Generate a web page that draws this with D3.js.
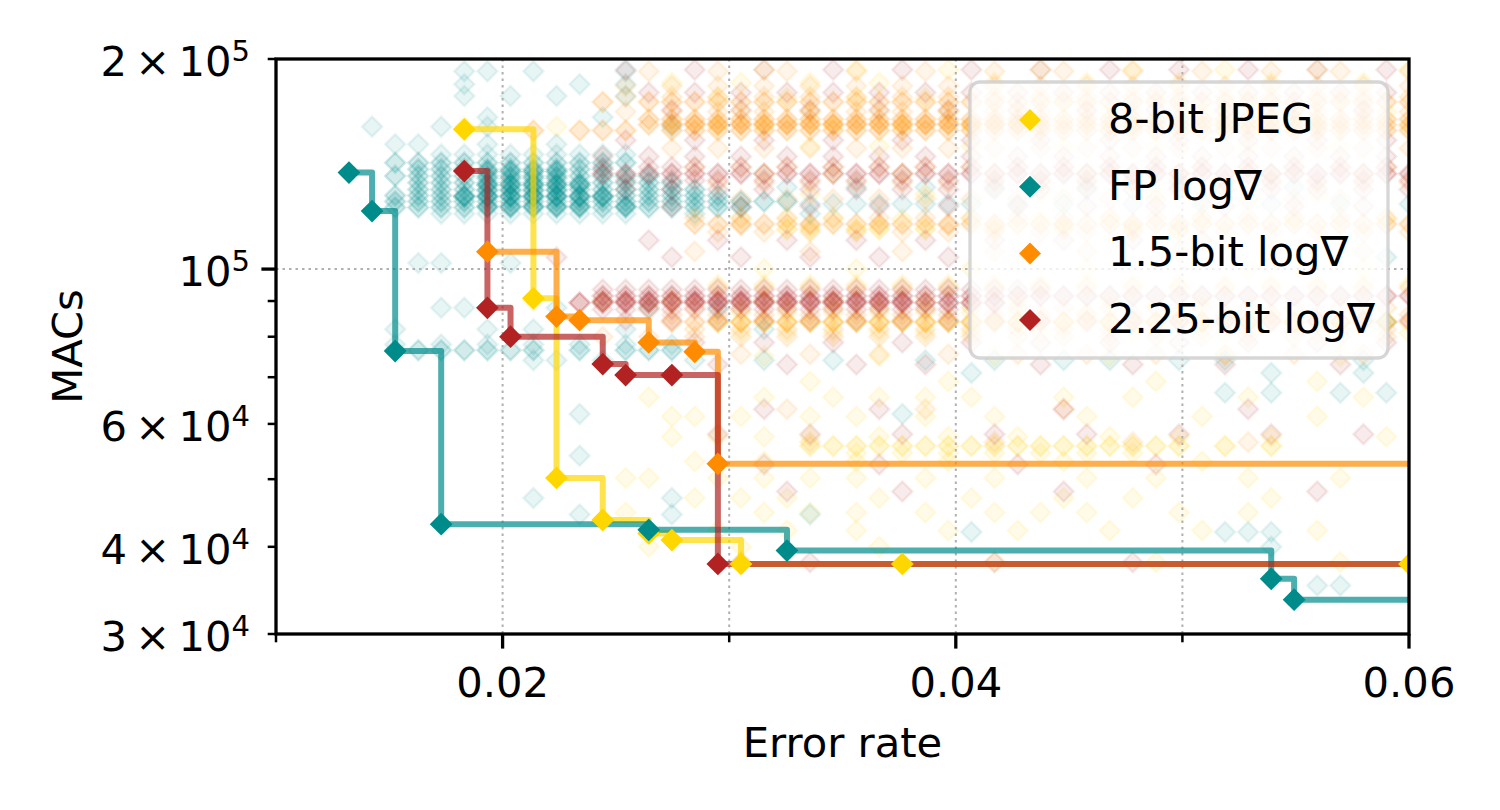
<!DOCTYPE html>
<html><head><meta charset="utf-8">
<script src="https://cdn.jsdelivr.net/npm/d3@7"></script>
<style>
body{margin:0;background:#fff}
svg{display:block}
text{font-family:"DejaVu Sans",sans-serif;fill:#000}
</style>
</head><body>
<svg id="chart" width="1500" height="810"></svg>
<script>
// ---------------- DATA ----------------
const seriesNames  = ["8-bit JPEG", "FP log\u2207", "1.5-bit log\u2207", "2.25-bit log\u2207"];
const seriesColors = ["#FFD700", "#008B8B", "#FF8C00", "#B22222"];

// x ticks / y ticks
const xMajorTicks = [0.02, 0.04, 0.06];
const xMinorTicks = [0.01, 0.03, 0.05];
const xGridTicks  = [0.02, 0.03, 0.04, 0.05];
const yMajorTicks = [100000];
const yMinorTicks = [30000, 40000, 50000, 60000, 70000, 80000, 90000, 200000];
const yTickLabels = [[200000, "2", "5"], [100000, "", "5"], [60000, "6", "4"], [40000, "4", "4"], [30000, "3", "4"]];

// Pareto fronts  [error rate, MACs]
const paretoJpeg = [[0.01831,158600],[0.02136,90800],[0.02238,50200],[0.02442,43700],[0.02645,41800],[0.02747,40900],[0.03052,37800],[0.03764,37800],[0.06002,37800]];
const paretoFp   = [[0.01322,137500],[0.01424,121100],[0.01526,76300],[0.01729,43100],[0.02645,42300],[0.03255,39500],[0.05392,36000],[0.05493,33600]];
const pareto15   = [[0.01933,105900],[0.02238,85500],[0.02340,84500],[0.02645,78500],[0.02848,76100],[0.02950,52600]];
const pareto225  = [[0.01831,138200],[0.01933,88000],[0.02035,80000],[0.02442,73100],[0.02543,70500],[0.02747,70500],[0.02950,37800]];

// discrete error-rate columns observed in the picture (column 12 .. 60)
const firstCol = 12;
const errGrid = [0.01221,0.01322,0.01424,0.01526,0.01628,0.01729,0.01831,0.01933,0.02035,0.02136,
  0.02238,0.02340,0.02442,0.02543,0.02645,0.02747,0.02848,0.02950,0.03052,0.03154,
  0.03255,0.03357,0.03459,0.03561,0.03662,0.03764,0.03866,0.03967,0.04069,0.04171,
  0.04273,0.04374,0.04476,0.04578,0.04680,0.04781,0.04883,0.04985,0.05087,0.05188,
  0.05290,0.05392,0.05493,0.05595,0.05697,0.05799,0.05900,0.06002,0.06104];

// background runs: [MACs, number of overlapping runs, columns]
const bgJpeg = [
 [193000,1,[31,35,39,43,47,51,55,59]],
 [185000,1,[27,30,33,36,41,45,49,53,57]],
 [176000,1,[29,32,35,38,44,48,52,56]],
 [168000,1,[30,33,36,39,42,46,50,54,58]],
 [160000,1,[18,22,29,31,34,37,40,43,47,51,55,59]],
 [150000,1,[33,36,40,44,48,52,56]],
 [137000,1,[31,34,37,41,45,49,53,57]],
 [128000,1,[33,38,43,48,55]],
 [118000,1,[30,32,34,37,40,43,46,50,54,58]],
 [114000,2,[32,33,35,36,38,41,44,47,49]],
 [100000,1,[31,35,40,45,52,57]],
 [95000,1,[29,31,33,35,37,39,41,43,45,47,49,51,53,55,57,59]],
 [90000,1,[21,24,27,31,34,38,42,46,50]],
 [86500,1,[30,32,34,36,38,40,42,45,49,53,57]],
 [84000,2,[29,30,31,32,33,34,35,36,37,38,39,40,41,42,44,46,48,50,52,54,56,58]],
 [81000,1,[30,32,34,36,38,40,43,47,51,55,59]],
 [75000,1,[31,36,41,46,51,56]],
 [69000,1,[33,39,48,55]],
 [65500,1,[26,31,34,36,38,40,44,47,52,57]],
 [61500,1,[27,28,30,33,35,38,41,45,50,55]],
 [57500,1,[27,29,31,33,36,39,42,46,49,53,58]],
 [55800,2,[33,34,35,36,37,38,39,40,41,42,43,44,45,46,47,48,49,51,53]],
 [54500,1,[35,37,39,41,43,45,47]],
 [53000,1,[28,31,35,39,44,50]],
 [50200,1,[25,26,29,31,33,35,38,41,45,48,52,56]],
 [47000,1,[28,30,32,36,40,44,47,53]],
 [44800,1,[25,31,33,35,38,41,43,45,49,52]],
 [42200,1,[29,32,35,39,42,46,50,55]],
 [40000,1,[26,30,36]],
 [38000,1,[41,48,56]]
];
const bgFp = [
 [192000,1,[18,19,21,25]],
 [184000,1,[18,23,25]],
 [177000,1,[18,20,22,25]],
 [165000,1,[19,24]],
 [160000,1,[14,17,19,27]],
 [151000,1,[15,16,19,22]],
 [146000,1,[17,18,19,20,21,22,23,24,25]],
 [142000,2,[15,16,17,18,19,20,21,22,23,24,25]],
 [139000,2,[16,17,18,19,20,21,22,23,24]],
 [136000,2,[15,16,17,18,19,20,21,22,23,24,25,26]],
 [133000,2,[16,17,18,19,20,21,22,23,24,25,26,27]],
 [130000,2,[16,17,18,19,20,21,22,23,24,25,26,27,28]],
 [127500,2,[15,16,17,18,19,20,21,22,23,24,25,26,27,28,29]],
 [125000,2,[15,16,17,18,19,20,21,22,23,24,25,26,27,28,29,30,31,32]],
 [122500,2,[15,16,17,18,19,20,21,22,23,24,25,26,27,28,29,30]],
 [120000,1,[17,18,19,20,21,22,23,24,25,28,33]],
 [138000,3,[19,20,21,22]],
 [135000,2,[19,20,21,22]],
 [132000,4,[19,20,21,22,23]],
 [129500,2,[19,20,21,22]],
 [127000,4,[18,19,20,21,22,23,24]],
 [123000,3,[19,20,21,22,23,25]],
 [124000,1,[33,34,35,36,37,38,39,40,42,44,47,50,53,56,59]],
 [131000,1,[32,35,38,41,45,49,54]],
 [104000,1,[58]],
 [102000,1,[16,17,20]],
 [88000,1,[17,18,22,26,29]],
 [84000,1,[58]],
 [82000,1,[15,19,21,25,31]],
 [78000,1,[15,17,19,21,23,25,27]],
 [76500,2,[15,16,17,18,19,20,21,23,25,26,27]],
 [74000,1,[21,22,24,28,31,34,38,41,44,46,49,51,57]],
 [71000,1,[40,53,57]],
 [66500,1,[51,53,56,58]],
 [62000,1,[23,37]],
 [54000,1,[23]],
 [47000,1,[21,27]],
 [44500,1,[23,27,33]],
 [42000,1,[40,51,52,53]],
 [40000,1,[53]],
 [35200,1,[55,56]]
];
const bg15 = [
 [192000,1,[26,29,32,35,38,41,44,47,50,53,56,59]],
 [183000,1,[25,27,29,31,33,35,37,39,41,43,45,47,49,51,53,55,57,59]],
 [176500,1,[25,27,29,31,33,35,37,39,41,43,45,47,49,51,53,55,57,59]],
 [173500,2,[24,26,27,28,29,30,31,32,33,34,35,36,37,38,39,40,41,42,43,44,45,46,47,48,49,50,51,52,53,54,55,56,57,58,59]],
 [168000,1,[25,27,29,31,33,35,37,39,41,43,45,47,49,51,53,55,57,59]],
 [164000,2,[26,27,28,29,30,31,32,33,34,35,36,37,38,39,40,41,42,43,44,45,46,47,48,49,50,51,52,53,54,55,56,57,58,59]],
 [161000,2,[26,27,28,29,30,31,32,33,34,35,36,37,38,39,40,41,42,43,44,45,46,47,48,49,50,51,52,53,54,55,56,57,58,59]],
 [161500,2,[27,28,29,30,31,32,33,34,35,36,37,38,39,40,41,42]],
 [158000,2,[21,23,24,25,27,28,29,30,31,32,33,34,35,36,37,38,39,40,41,42,43,44,45,46,47,48,49,50,51,52,53,54,55,56,57,58,59]],
 [149000,1,[27,29,31,33,35,37,39,41,43,45,47,49,51,53,55,57,59]],
 [140000,1,[28,30,32,34,36,38,40,42,44,46,48,50,52,54,56,58]],
 [133000,1,[29,31,33,35,37,39,41,43,45,47,49,51,53,55,57,59]],
 [126000,1,[30,32,34,36,38,40,42,44,46,48,50,52,54,56]],
 [118500,1,[28,30,32,34,36,38,40,42,44,46,48,50,52,54,56,58]],
 [116000,2,[28,29,30,31,32,33,34,35,36,37,38,39,40,41,42,43,44,45,46,47,48,49,50,51,52,53,54,55,56,57,58,59]],
 [115500,1,[30,33,36,39,41,44,47]],
 [113000,1,[29,31,33,35,37,39,41,43,45,47,49,51,53,55,57,59]],
 [106000,1,[28,33,37,41,45,49,53,57]],
 [94000,1,[29,31,33,35,37,39,41,43,45,47,49,51,53,55,57,59]],
 [88000,1,[26,28,30,32,34,36,38,40,42,44,46,48,50,52,54,56,58]],
 [86000,1,[27,29,31,33,35,37,39,41,43,45,47,49,51,53,55,57,59]],
 [84000,2,[27,28,29,30,31,32,33,34,35,36,37,38,39,40,41,42,43,44,45,46,47,48,49,50,51,52,53,54,55,56,57,58,59]],
 [82000,1,[28,30,32,34,36,38,40,42,44,46,48,50,52,54,56,58]],
 [80000,1,[24,26,28,30,32,34,36,38,40,42,44,46,48,50,52,54,56,58]],
 [75500,1,[30,33,36,39,42,45,48,51,54,57]],
 [63000,1,[32,38,44]],
 [56500,1,[33,41,47,52]]
];
const bg225 = [
 [193000,1,[25,28,31,34,37,40,43,46,49,52,55,58]],
 [179000,1,[26,28,30,32,34,36,38,40,42,44,46,48,50,52,54,56,58]],
 [169000,1,[27,30,33,36,39,42,45,48,51,54,57]],
 [153000,1,[25,28,31,34,37,40,43,46,49,52,55,58]],
 [145000,1,[24,26,28,30,32,34,36,38,40,42,44,46,48,50,52,54,56,58]],
 [140000,1,[24,26,27,28,30,32,34,36,38,40,42,44,46,48,50,52,54,56,58]],
 [137000,2,[24,25,26,27,28,29,30,31,32,33,34,35,36,37,38,39,40,41,42,43,44,45,46,47,48,49,50,51,52,53,54,55,56,57,58,59]],
 [134000,1,[25,27,28,29,31,33,35,37,39,41,43,45,47,49,51,53,55,57,59]],
 [130000,1,[25,27,29,31,33,35,37,39,41,43,45,47,49,51,53,55,57,59]],
 [123000,1,[27,30,33,36,39,42,45,48,51,54,57]],
 [110000,1,[26,29,32,35,38,41,44,47,50]],
 [104000,1,[22,27,30,33,36,39]],
 [93500,1,[24,25,26,27,28,29,30,31,32,33,34,35,36,37,38,39,40,41,42,43]],
 [91500,2,[24,25,26,27,28,29,30,31,32,33,34,35,36,37,38,39,40,41,42,43,44,45,46,47,48,49,50,51,52,53,54,55,56,57,58,59]],
 [90000,2,[24,25,26,27,28,29,30,31,32,33,34,35,36,37]],
 [89500,3,[23,24,25,26,27,28,29,30,31,32,33,34,35,36,37,38,39,40,41]],
 [87500,1,[24,25,26,27,28,29,30,31,32,33,34,35,36,37,38,39]],
 [84500,1,[25,27,29,31,33,35,37,39,41,43,45,47,49,51,53,55,57,59]],
 [78500,1,[28,31,34,37,40,43,46,49,52,55,58]],
 [73000,1,[29,32,35,38,43,47,51,56]],
 [63000,1,[31,36,44,52]],
 [58000,1,[29,33,37,41,45,49,53,57]],
 [52500,1,[31,36,42,48]],
 [48000,1,[32,37,44,55]],
 [38000,1,[30,33,41,47]]
];

const paretoAll = [paretoJpeg, paretoFp, pareto15, pareto225];
const bgAll = [bgJpeg, bgFp, bg15, bg225];

// ---------------- CHART ----------------
const FS = 41.7;
const svg = d3.select("#chart");
const M = {left: 276, right: 1409, top: 59, bottom: 634};
const x = d3.scaleLinear().domain([0.01, 0.06]).range([M.left, M.right]);
const y = d3.scaleLog().domain([30000, 200000]).range([M.bottom, M.top]);

svg.append("defs").append("clipPath").attr("id", "plotclip")
  .append("rect").attr("x", M.left).attr("y", M.top)
  .attr("width", M.right - M.left).attr("height", M.bottom - M.top);

const plot = svg.append("g").attr("clip-path", "url(#plotclip)");

// background scatter
const bgSym = d3.symbol().type(d3.symbolSquare).size(200);
const bgLayer = plot.append("g");
bgAll.forEach((rows, si) => {
  const pts = [];
  rows.forEach(([macs, n, cols]) => {
    cols.forEach(c => { for (let r = 0; r < n; r++) pts.push([errGrid[c - firstCol], macs]); });
  });
  bgLayer.append("g").selectAll("path").data(pts).join("path")
    .attr("d", bgSym)
    .attr("transform", d => `translate(${x(d[0])},${y(d[1])}) rotate(45)`)
    .attr("fill", seriesColors[si]).attr("fill-opacity", 0.09)
    .attr("stroke", seriesColors[si]).attr("stroke-opacity", 0.09).attr("stroke-width", 2.5);
});

// grid (above scatter, below lines)
const grid = plot.append("g").attr("stroke", "#b0b0b0").attr("stroke-width", 2).attr("stroke-dasharray", "2.5,4");
grid.selectAll("line.gx").data(xGridTicks).join("line").attr("class", "gx")
  .attr("x1", d => x(d)).attr("x2", d => x(d)).attr("y1", M.top).attr("y2", M.bottom);
grid.selectAll("line.gy").data(yMajorTicks).join("line").attr("class", "gy")
  .attr("x1", M.left).attr("x2", M.right).attr("y1", d => y(d)).attr("y2", d => y(d));

// step lines
const stepLine = d3.line().x(d => x(d[0])).y(d => y(d[1])).curve(d3.curveStepAfter);
paretoAll.forEach((pts, si) => {
  const ext = pts.concat([[x.domain()[1] + 0.001, pts[pts.length - 1][1]]]);
  plot.append("path").attr("d", stepLine(ext))
    .attr("fill", "none").attr("stroke", seriesColors[si]).attr("stroke-opacity", 0.7)
    .attr("stroke-width", 6).attr("stroke-linejoin", "round");
});
// pareto markers
const pSym = d3.symbol().type(d3.symbolSquare).size(260);
paretoAll.forEach((pts, si) => {
  plot.append("g").selectAll("path").data(pts).join("path")
    .attr("d", pSym)
    .attr("transform", d => `translate(${x(d[0])},${y(d[1])}) rotate(45)`)
    .attr("fill", seriesColors[si]);
});

// ticks
const tk = svg.append("g").attr("stroke", "#000");
tk.selectAll("line.xM").data(xMajorTicks).join("line").attr("class", "xM")
  .attr("x1", d => x(d)).attr("x2", d => x(d)).attr("y1", M.bottom).attr("y2", M.bottom + 14.6).attr("stroke-width", 3.3);
tk.selectAll("line.xm").data(xMinorTicks).join("line").attr("class", "xm")
  .attr("x1", d => x(d)).attr("x2", d => x(d)).attr("y1", M.bottom).attr("y2", M.bottom + 8.3).attr("stroke-width", 2.5);
tk.selectAll("line.yM").data(yMajorTicks).join("line").attr("class", "yM")
  .attr("x1", M.left - 14.6).attr("x2", M.left).attr("y1", d => y(d)).attr("y2", d => y(d)).attr("stroke-width", 3.3);
tk.selectAll("line.ym").data(yMinorTicks).join("line").attr("class", "ym")
  .attr("x1", M.left - 8.3).attr("x2", M.left).attr("y1", d => y(d)).attr("y2", d => y(d)).attr("stroke-width", 2.5);

// x tick labels
svg.append("g").selectAll("text").data(xMajorTicks).join("text")
  .attr("x", d => x(d)).attr("y", 697).attr("text-anchor", "middle")
  .attr("font-size", FS).text(d3.format(".2f"));

// y tick labels
const yl = svg.append("g").selectAll("text").data(yTickLabels).join("text")
  .attr("x", 250).attr("y", d => y(d[0]) + 17).attr("text-anchor", "end").attr("font-size", FS);
yl.append("tspan").text(d => d[1] ? d[1] + "\u2009\u00d7\u200910" : "10");
yl.append("tspan").attr("dy", -15).attr("font-size", 29).text(d => d[2]);

// axis labels
svg.append("text").attr("x", (M.left + M.right) / 2).attr("y", 757).attr("text-anchor", "middle")
  .attr("font-size", FS).text("Error rate");
svg.append("text").attr("transform", `translate(82,${(M.top + M.bottom) / 2}) rotate(-90)`)
  .attr("text-anchor", "middle").attr("font-size", FS).text("MACs");

// spines
svg.append("rect").attr("x", M.left).attr("y", M.top).attr("width", M.right - M.left)
  .attr("height", M.bottom - M.top).attr("fill", "none").attr("stroke", "#000").attr("stroke-width", 3.3);

// legend
const lg = svg.append("g");
lg.append("rect").attr("x", 970).attr("y", 82).attr("width", 418).attr("height", 276).attr("rx", 10)
  .attr("fill", "#fff").attr("fill-opacity", 0.8).attr("stroke", "#cccccc").attr("stroke-opacity", 0.8).attr("stroke-width", 3.3);
const lSym = d3.symbol().type(d3.symbolSquare).size(242);
seriesNames.forEach((nm, i) => {
  const cy = 120 + i * 66.7;
  lg.append("path").attr("d", lSym).attr("transform", `translate(1030,${cy}) rotate(45)`).attr("fill", seriesColors[i]);
  lg.append("text").attr("x", 1108).attr("y", cy + 13).attr("font-size", FS).text(nm);
});
</script>
</body></html>
